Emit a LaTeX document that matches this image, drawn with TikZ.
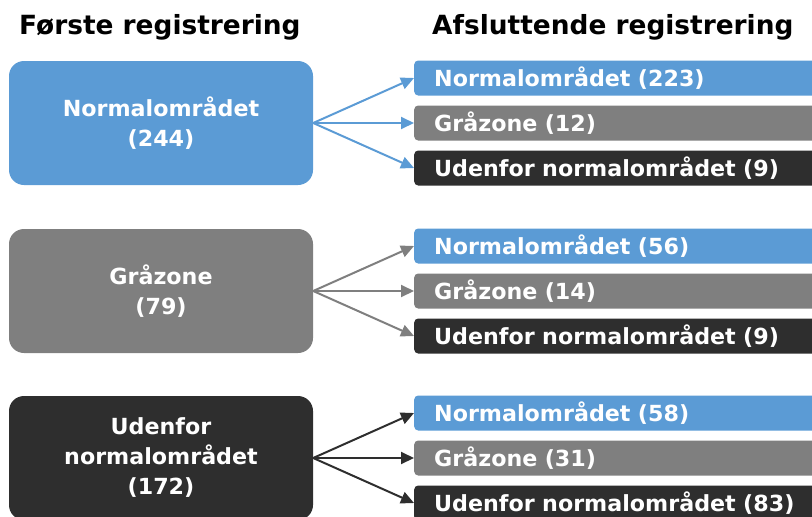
\documentclass[tikz,border=0pt]{standalone}
\usepackage{fontspec}
\setmainfont{DejaVu Sans}
\usepackage{xcolor}
\usepackage{tikz}
\usetikzlibrary{arrows.meta}

\definecolor{blaa}{HTML}{5B9BD5}
\definecolor{graa}{HTML}{7F7F7F}
\definecolor{sort}{HTML}{2E2E2E}

\tikzset{
	tekst/.style={font=\bfseries\fontsize{22.2}{30}\selectfont},
	titel/.style={font=\bfseries\fontsize{26.4}{30}\selectfont, anchor=west, inner sep=0pt},
	venstre/.style={tekst, text=white, rounded corners=15pt, minimum width=304pt, minimum height=124pt, align=center},
	hoejre/.style={tekst, text=white, anchor=west, rounded corners=4pt, text width=380pt, inner xsep=20pt, inner ysep=0pt, minimum height=35pt, align=left},
	pil/.style={line width=2pt, -{Triangle[length=13pt,width=12pt]}}
}

\begin{document}
\begin{tikzpicture}[x=1pt,y=-1pt]
\useasboundingbox (0,0) rectangle (812,517);

\node[titel] (t1) at (19,27) {Første registrering};
\node[titel] (t2) at (432,27) {Afsluttende registrering};

\node[venstre, fill=blaa] (a) at (161,123) {Normalområdet\\(244)};
\node[venstre, fill=graa] (b) at (161,291) {Gråzone\\(79)};
\node[venstre, fill=sort] (c) at (161,458) {Udenfor\\normalområdet\\(172)};

\foreach \k/\y/\n/\g/\u/\farve in {a/78/223/12/9/blaa, b/246/56/14/9/graa, c/413/58/31/83/sort} { %afsluttende
	\node[hoejre, fill=blaa] (\k1) at (414,\y) {Normalområdet (\n)};
	\node[hoejre, fill=graa] (\k2) at (414,\y+45) {Gråzone (\g)};
	\node[hoejre, fill=sort] (\k3) at (414,\y+90) {Udenfor normalområdet (\u)};
	\foreach \i in {1,2,3}
		\draw[pil, draw=\farve, fill=\farve] (\k.east) -- (\k\i.west);
}

\end{tikzpicture}
\end{document}
